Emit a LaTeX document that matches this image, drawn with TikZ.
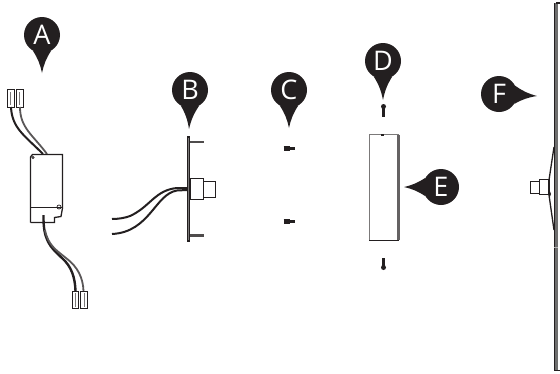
\documentclass[tikz,border=0pt]{standalone}
\usepackage{fontspec}
\setmainfont{Open Sans}
\usetikzlibrary{positioning}
\definecolor{pindark}{HTML}{231F20}
\definecolor{paneledge}{HTML}{6E6E6E}
\tikzset{
    pinhead/.style = {circle, fill=pindark, minimum size=36pt, inner sep=0pt, text=white, font=\fontsize{27}{27}\selectfont},
    wirethick/.style = {line width=2pt, pindark},
    wiregrey/.style = {line width=1.8pt, pindark!75},
    part/.style = {line width=1.3pt, pindark},
    tab/.style = {line width=2.4pt, pindark!80},
    screw/.style = {line width=4.4pt, pindark},
    screwtip/.style = {line width=2.6pt, pindark}
}
\begin{document}
\begin{tikzpicture}[x=1pt, y=-1pt]
    \useasboundingbox (0,0) rectangle (560,373);
    % location pins
    \foreach \name/\cx/\cy/\tx/\ty/\ang in {A/42/35/42/73/-90, B/190/90/189/129/-90, C/289/90/289/128/-90, D/383/61/383/100/-90, E/441/187/404/187/180, F/499/94/537/96/-3} {
        \node[pinhead] (\name) at (\cx,\cy) {\name};
        \coordinate (tip\name) at (\tx,\ty);
        \fill[pindark] (\name.\ang+30) to[bend right=10] (tip\name) to[bend right=10] (\name.\ang-30) -- cycle;
    }
    % part A, connectors and wires
    \draw[part, fill=white] (7.5,89.5) rectangle (14.5,107.5);
    \draw[part, fill=white] (16.5,89.5) rectangle (23.5,107.5);
    \draw[part, pindark!60, line width=.8pt] (10.7,92) -- (10.7,105) (19.7,92) -- (19.7,105);
    \draw[wirethick] (11,107) .. controls (12,128) and (24,135) .. (43,154);
    \draw[wiregrey] (20,107) .. controls (20,128) and (33,135) .. (47,154);
    \draw[part] (30.5,222.5) -- (30.5,157) -- (32.5,154.5) -- (62.5,154.5) -- (62.5,208);
    \draw[part, line width=.7pt] (33,157.5) circle (1.2);
    \draw[part] (30.5,207.5) -- (62.5,207.5);
    \draw[part] (30.5,222.5) -- (54.5,222.5) -- (54.5,217.5) -- (61,216.5) -- (62.5,208);
    \draw[part, line width=.7pt] (59,207) circle (2);
    \draw[wirethick, line width=2.4pt] (43.5,215) .. controls (43,240) and (50,247) .. (62,258) .. controls (72,267) and (75,278) .. (75.5,291);
    \draw[wiregrey] (45,230) .. controls (48,245) and (56,250) .. (66,258) .. controls (78,267) and (83,278) .. (83.5,291);
    \draw[part, fill=white] (72.5,291.5) rectangle (78.5,308.5);
    \draw[part, fill=white] (80.5,291.5) rectangle (87.5,308.5);
    \draw[part, pindark!60, line width=.8pt] (75.5,293) -- (75.5,307) (84,293) -- (84,307);
    % part B
    \draw[wirethick] (187,188) -- (177,188) .. controls (155,190) and (150,207) .. (130,216) .. controls (125,218) and (118,219) .. (112,219);
    \draw[wirethick] (187,190) -- (177,190.5) .. controls (155,194) and (150,232) .. (112,234);
    \draw[tab] (189,142) -- (204,142);
    \draw[tab] (189,235.5) -- (204,235.5);
    \draw[part, fill=pindark!60] (187.7,137) rectangle (189.8,241);
    \draw[part, fill=white] (203.5,181.5) rectangle (215.5,197.5);
    \draw[part, fill=white] (190.5,178.5) rectangle (203.5,199.5);
    % part C
    \foreach \sy in {148.5, 221.5} {
        \draw[screw] (283.5,\sy) -- (290,\sy);
        \draw[screwtip] (290,\sy) -- (295,\sy);
    }
    % part D
    \draw[screwtip, line width=3.4pt] (383.5,106) -- (383.5,117);
    \fill[pindark] (383.5,106.5) circle (2.5);
    \draw[screwtip, line width=3.4pt] (383.5,258) -- (383.5,268);
    \fill[pindark] (383.5,267.5) circle (2.5);
    % part E
    \draw[part, pindark!60] (369.5,134.5) rectangle (398.5,240.5);
    \draw[pindark!70, line width=2.4pt] (398.5,135) -- (398.5,240);
    \draw[part] (369,240.5) -- (399,240.5);
    \draw[part] (381,135) -- (384,135);
    % part F
    \fill[paneledge] (554.2,3) rectangle (558,370);
    \draw[part, line width=.5pt] (554.2,3) -- (554.2,370) -- (560,370);
    \draw[part] (556,3) -- (560,3);
    \draw[part, white!70!black, line width=.5pt] (554.2,247) -- (558,247);
    \draw[part] (554,147) -- (549,180);
    \draw[part] (549,195) -- (554,230);
    \draw[part, fill=white] (530.5,181.5) rectangle (539.5,193.5);
    \draw[part, fill=white] (539.5,179.5) rectangle (549,194.5);
    \fill[pindark] (549,189) -- (551,194) -- (549,199) -- cycle;
\end{tikzpicture}
\end{document}
